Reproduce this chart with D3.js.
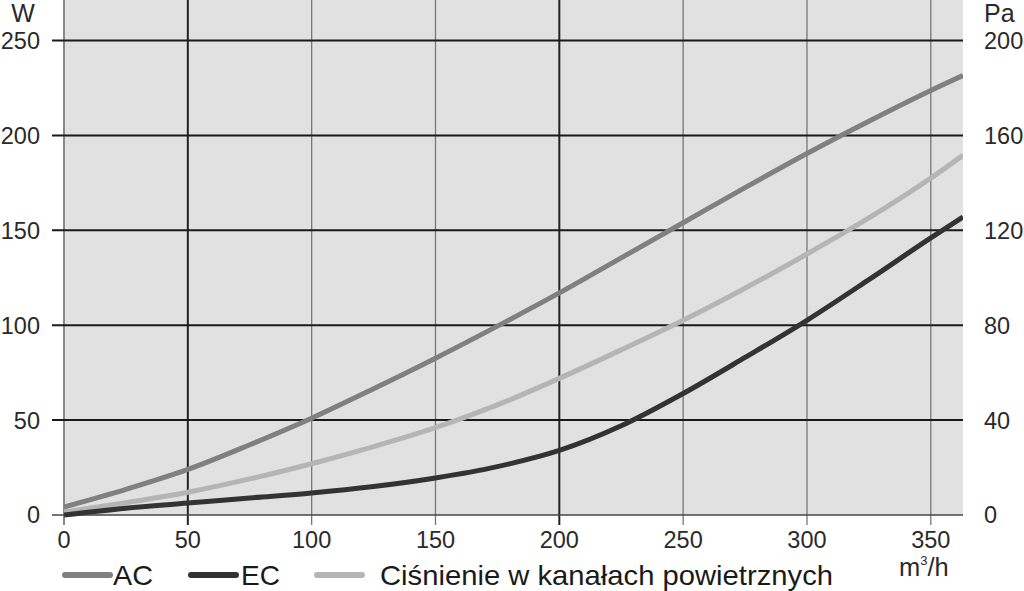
<!DOCTYPE html>
<html><head><meta charset="utf-8">
<script src="https://cdn.jsdelivr.net/npm/d3@7"></script>
<style>body{margin:0;background:#fff}svg{display:block;font-family:"Liberation Sans",Arial,sans-serif}</style>
</head><body><svg id="c" width="1024" height="591"></svg>
<script>
const flow = [0, 25, 50, 75, 100, 125, 150, 175, 200, 225, 250, 275, 300, 325, 350, 363];
const acW = [4.2, 13.5, 24, 37, 51, 66.5, 82.6, 99.5, 117, 135.5, 154, 172.5, 190.5, 207.5, 223.7, 231.6];
const ecW = [0, 3.6, 6.3, 9, 11.6, 15, 19.5, 25.5, 34, 47, 64, 83, 102.6, 124, 146, 157];
const pressW = [1.6, 6.5, 12, 19, 27, 36, 46, 58, 72, 87, 102.6, 119.5, 137.5, 156.5, 177.5, 189.5];
const xTicks = [0, 50, 100, 150, 200, 250, 300, 350];
const xTicksDark = [50, 200];
const yTicksW = [0, 50, 100, 150, 200, 250];
const yTicksPa = [0, 40, 80, 120, 160, 200];
const seriesNames = ["AC", "EC", "Ciśnienie w kanałach powietrznych"];
const seriesColors = ["#808080", "#333333", "#b5b5b5"];

const svg = d3.select("#c");
const L = 64, R = 963, T = 0, B = 515;
const x = d3.scaleLinear().domain([0, 363]).range([L, R]);
const y = d3.scaleLinear().domain([0, 250]).range([B, 40.5]);
const yPa = d3.scaleLinear().domain([0, 200]).range([B, 40.5]);

svg.append("rect").attr("x", L).attr("y", T).attr("width", R - L).attr("height", B - T).attr("fill", "#e1e1e1");

// vertical grid
svg.append("g").selectAll("line").data(xTicks.filter(d => d > 0)).join("line")
  .attr("x1", d => x(d)).attr("x2", d => x(d)).attr("y1", T).attr("y2", B + 10)
  .attr("stroke", d => xTicksDark.includes(d) ? "#222" : "#777")
  .attr("stroke-width", d => xTicksDark.includes(d) ? 2 : 1.3);
// left axis line
svg.append("line").attr("x1", x(0)).attr("x2", x(0)).attr("y1", T).attr("y2", B + 10).attr("stroke", "#888").attr("stroke-width", 2);
// horizontal grid
svg.append("g").selectAll("line").data(yTicksW.filter(d => d > 0)).join("line")
  .attr("x1", L - 12).attr("x2", R).attr("y1", d => y(d)).attr("y2", d => y(d))
  .attr("stroke", "#1a1a1a").attr("stroke-width", 2);
svg.append("line").attr("x1", L - 12).attr("x2", R).attr("y1", B).attr("y2", B).attr("stroke", "#444").attr("stroke-width", 1.5);

// axes labels
const txt = "#2a2a2a";
svg.append("g").selectAll("text").data(yTicksW).join("text")
  .attr("x", 40).attr("y", d => y(d)).attr("dy", "0.36em").attr("text-anchor", "end")
  .attr("font-size", 23.5).attr("fill", txt).text(d => d);
svg.append("g").selectAll("text").data(yTicksPa).join("text")
  .attr("x", 984).attr("y", d => yPa(d)).attr("dy", "0.36em").attr("text-anchor", "start")
  .attr("font-size", 23.5).attr("fill", txt).text(d => d);
svg.append("g").selectAll("text").data(xTicks).join("text")
  .attr("x", d => x(d)).attr("y", 548).attr("text-anchor", "middle")
  .attr("font-size", 23.5).attr("fill", txt).text(d => d);
svg.append("text").attr("x", 23).attr("y", 22).attr("text-anchor", "middle").attr("font-size", 25).attr("fill", txt).text("W");
svg.append("text").attr("x", 984).attr("y", 22).attr("font-size", 25).attr("fill", txt).text("Pa");
const mu = svg.append("text").attr("x", 899).attr("y", 576).attr("font-size", 25.5).attr("fill", txt);
mu.append("tspan").text("m");
mu.append("tspan").attr("font-size", 13).attr("dy", -11).text("3");
mu.append("tspan").attr("dy", 11).text("/h");

// curves
const line = d3.line().x((d, i) => x(flow[i])).y(d => y(d)).curve(d3.curveMonotoneX);
svg.append("clipPath").attr("id", "pc").append("rect").attr("x", L).attr("y", T).attr("width", R - L).attr("height", B - T + 3);
[[pressW, 2], [acW, 0], [ecW, 1]].forEach(([vals, ci]) => {
  svg.append("path").attr("d", line(vals)).attr("fill", "none")
    .attr("stroke", seriesColors[ci]).attr("stroke-width", 5).attr("clip-path", "url(#pc)");
});

// legend
const legX = [63, 189, 315];
const legTX = [113, 241, 380];
const legW = [40, 39, 453];
seriesNames.forEach((n, i) => {
  svg.append("line").attr("x1", legX[i] + 2).attr("x2", legX[i] + 47).attr("y1", 575).attr("y2", 575)
    .attr("stroke", seriesColors[i]).attr("stroke-width", 6).attr("stroke-linecap", "round");
  svg.append("text").attr("x", legTX[i]).attr("y", 585).attr("font-size", 28).attr("fill", "#1a1a1a")
    .attr("textLength", legW[i]).attr("lengthAdjust", "spacingAndGlyphs").text(n);
});
</script></body></html>
